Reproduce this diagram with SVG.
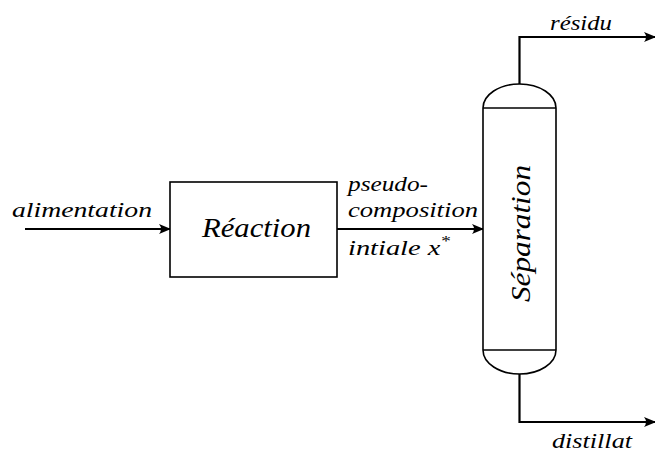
<svg xmlns="http://www.w3.org/2000/svg" width="655" height="453" viewBox="0 0 655 453">
<style>
.t{font-family:"Liberation Serif","Times New Roman",serif;font-style:italic;fill:#000}
.s{font-size:22px}
.b{font-size:28px}
.ln{fill:none;stroke:#000;stroke-width:2.2}
.sh{fill:#fff;stroke:#000;stroke-width:1.6}
</style>
<defs>
<marker id="ar" viewBox="0 0 12 10" refX="11" refY="5" markerWidth="12" markerHeight="10" markerUnits="userSpaceOnUse" orient="auto">
<path d="M0,0 Q4,5 0,10 L12,5 Z" fill="#000"/>
</marker>
</defs>
<g id="connectors">
<line class="ln" x1="25" y1="229" x2="170" y2="229" marker-end="url(#ar)"/>
<line class="ln" x1="337" y1="229" x2="483" y2="229" marker-end="url(#ar)"/>
<polyline class="ln" points="519.5,84 519.5,37 655,37" marker-end="url(#ar)"/>
<polyline class="ln" points="519.5,374 519.5,422 655,422" marker-end="url(#ar)"/>
</g>
<g id="reaction">
<rect class="sh" x="170" y="182" width="167" height="95"/>
<text class="t b" x="202" y="237" textLength="109" lengthAdjust="spacingAndGlyphs">Réaction</text>
</g>
<g id="separation">
<path class="sh" d="M483,108 A36.5,24 0 0 1 556,108 L556,350 A36.5,24 0 0 1 483,350 Z"/>
<line class="sh" x1="483" y1="108" x2="556" y2="108"/>
<line class="sh" x1="483" y1="350" x2="556" y2="350"/>
<text class="t b" transform="translate(530,302) rotate(-90)" textLength="137" lengthAdjust="spacingAndGlyphs">Séparation</text>
</g>
<g id="labels">
<text class="t s" x="12" y="217" textLength="140" lengthAdjust="spacingAndGlyphs">alimentation</text>
<text class="t s" x="348" y="191" textLength="80" lengthAdjust="spacingAndGlyphs">pseudo-</text>
<text class="t s" x="348" y="217" textLength="130" lengthAdjust="spacingAndGlyphs">composition</text>
<text class="t s" x="348" y="255" textLength="102" lengthAdjust="spacingAndGlyphs">intiale x<tspan font-size="15" dy="-9">*</tspan></text>
<text class="t s" x="550" y="30" textLength="62" lengthAdjust="spacingAndGlyphs">résidu</text>
<text class="t s" x="552" y="448" textLength="80" lengthAdjust="spacingAndGlyphs">distillat</text>
</g>
</svg>
